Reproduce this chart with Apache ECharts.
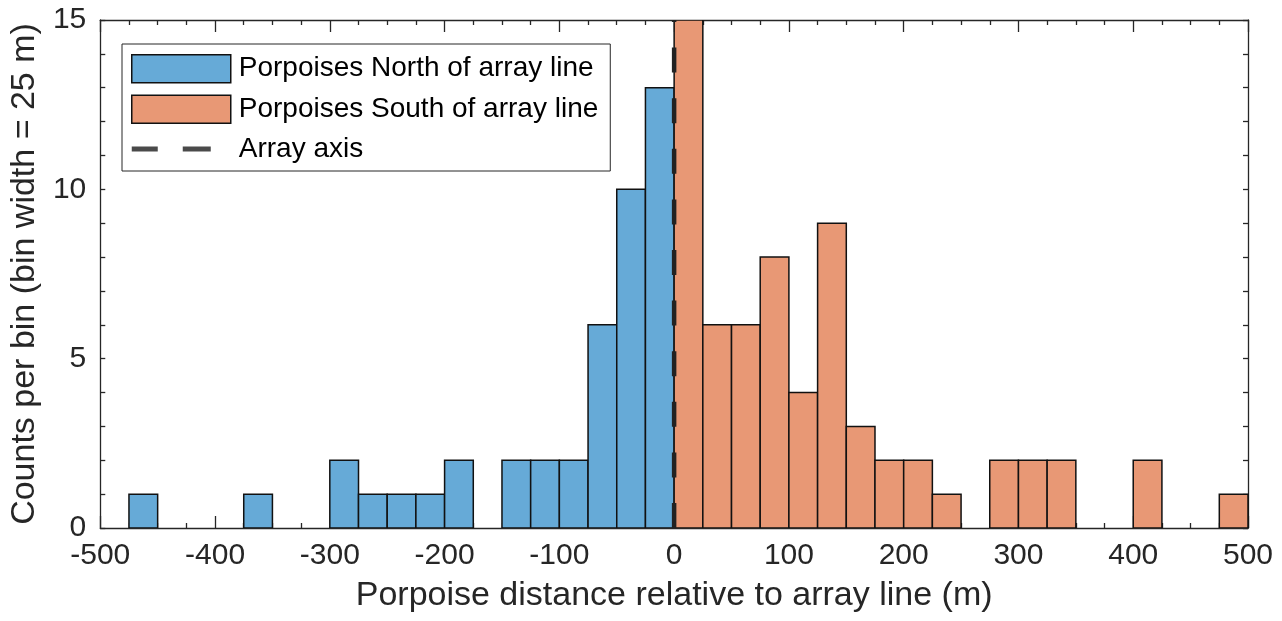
<!DOCTYPE html>
<html>
<head>
<meta charset="utf-8">
<script src="https://cdn.jsdelivr.net/npm/echarts@6/dist/echarts.min.js"></script>
<style>
html,body{margin:0;padding:0;background:#fff;}
#chart{width:1282px;height:621px;}
</style>
</head>
<body>
<div id="chart"></div>
<script>
// Bin left edges (bin width = 25 m)
const binStarts = [-500,-475,-450,-425,-400,-375,-350,-325,-300,-275,-250,-225,-200,-175,-150,-125,-100,-75,-50,-25,
                   0,25,50,75,100,125,150,175,200,225,250,275,300,325,350,375,400,425,450,475];
const binWidth = 25;
// Counts per bin, North of array line
const northCounts = [0,1,0,0,0,1,0,0,2,1,1,1,2,0,2,2,2,6,10,13,
                     0,0,0,0,0,0,0,0,0,0,0,0,0,0,0,0,0,0,0,0];
// Counts per bin, South of array line
const southCounts = [0,0,0,0,0,0,0,0,0,0,0,0,0,0,0,0,0,0,0,0,
                     15,6,6,8,4,9,3,2,2,1,0,2,2,2,0,0,2,0,0,1];
const arrayAxisX = 0;
const xTicks = [-500,-400,-300,-200,-100,0,100,200,300,400,500];
const yTicks = [0,5,10,15];

const seriesNames = ['Porpoises North of array line','Porpoises South of array line','Array axis'];
const northColor = '#66AAD7';
const southColor = '#E89875';
const axisColor = '#262626';
const font = 'Liberation Sans, Arial, Helvetica, sans-serif';

function binData(counts){
  const out = [];
  for (let i = 0; i < binStarts.length; i++) {
    if (counts[i] > 0) out.push([binStarts[i], binStarts[i] + binWidth, counts[i]]);
  }
  return out;
}

function renderBin(params, api){
  const p0 = api.coord([api.value(0), 0]);
  const p1 = api.coord([api.value(1), api.value(2)]);
  return {
    type: 'rect',
    shape: {x: p0[0], y: p1[1], width: p1[0] - p0[0], height: p0[1] - p1[1]},
    style: {fill: api.visual('color'), stroke: '#111', lineWidth: 1.5}
  };
}

const xAxisBase = {
  type: 'value', min: xTicks[0], max: xTicks[xTicks.length-1], interval: 100,
  axisLine: {show: true, onZero: false, lineStyle: {color: axisColor, width: 1.3}},
  axisTick: {show: true, inside: true, length: 12, lineStyle: {color: axisColor, width: 1.3}},
  minorTick: {show: true, splitNumber: 4, length: 5, lineStyle: {color: axisColor, width: 1.3}},
  splitLine: {show: false}, minorSplitLine: {show: false}
};
const yAxisBase = {
  type: 'value', min: yTicks[0], max: yTicks[yTicks.length-1], interval: 5,
  axisLine: {show: true, onZero: false, lineStyle: {color: axisColor, width: 1.3}},
  axisTick: {show: true, inside: true, length: 5, lineStyle: {color: axisColor, width: 1.3}},
  minorTick: {show: true, splitNumber: 5, length: 5, lineStyle: {color: axisColor, width: 1.3}},
  splitLine: {show: false}, minorSplitLine: {show: false}
};

const chart = echarts.init(document.getElementById('chart'), null, {renderer: 'canvas'});
chart.setOption({
  animation: false,
  backgroundColor: '#fff',
  grid: {left: 96, right: 34, top: 20, bottom: 93, containLabel: false},
  legend: {
    orient: 'vertical', left: 122, top: 44,
    padding: [10, 12, 8, 9],
    itemWidth: 99, itemHeight: 28, itemGap: 11,
    borderColor: axisColor, borderWidth: 1, backgroundColor: '#fff',
    textStyle: {fontFamily: font, fontSize: 28, color: '#000', padding: [0,0,0,3]},
    selectedMode: false,
    data: [
      {name: seriesNames[0], icon: 'rect', itemStyle: {color: northColor, borderColor: '#111', borderWidth: 1.5}},
      {name: seriesNames[1], icon: 'rect', itemStyle: {color: southColor, borderColor: '#111', borderWidth: 1.5}},
      {name: seriesNames[2], icon: 'path://M0,0 M99,28 M0,11.5h26v5h-26z M51,11.5h28v5h-28z', itemStyle: {color: '#4a4a4a', borderWidth: 0}}
    ]
  },
  xAxis: [
    Object.assign({}, xAxisBase, {
      position: 'bottom',
      axisLabel: {show: true, fontFamily: font, fontSize: 30, color: axisColor, margin: 13, showMinLabel: true, showMaxLabel: true},
      name: 'Porpoise distance relative to array line (m)',
      nameLocation: 'middle', nameGap: 51,
      nameTextStyle: {fontFamily: font, fontSize: 34, color: axisColor}
    }),
    Object.assign({}, xAxisBase, {position: 'top', axisLabel: {show: false}})
  ],
  yAxis: [
    Object.assign({}, yAxisBase, {
      position: 'left',
      axisLabel: {show: true, fontFamily: font, fontSize: 30, color: axisColor, margin: 14},
      name: 'Counts per bin (bin width = 25 m)',
      nameLocation: 'middle', nameGap: 58,
      nameTextStyle: {fontFamily: font, fontSize: 34, color: axisColor}
    }),
    Object.assign({}, yAxisBase, {position: 'right', axisLabel: {show: false}})
  ],
  series: [
    {name: seriesNames[0], type: 'custom', renderItem: renderBin, clip: true,
     itemStyle: {color: northColor}, encode: {x: [0,1], y: 2}, data: binData(northCounts), z: 2},
    {name: seriesNames[1], type: 'custom', renderItem: renderBin, clip: true,
     itemStyle: {color: southColor}, encode: {x: [0,1], y: 2}, data: binData(southCounts), z: 2},
    {name: seriesNames[2], type: 'line', symbol: 'none', silent: true, z: 5,
     lineStyle: {color: '#222', width: 4.5, type: [25, 25.6], opacity: 1},
     data: [[arrayAxisX, yTicks[0]], [arrayAxisX, yTicks[yTicks.length-1]]]}
  ]
});
</script>
</body>
</html>
